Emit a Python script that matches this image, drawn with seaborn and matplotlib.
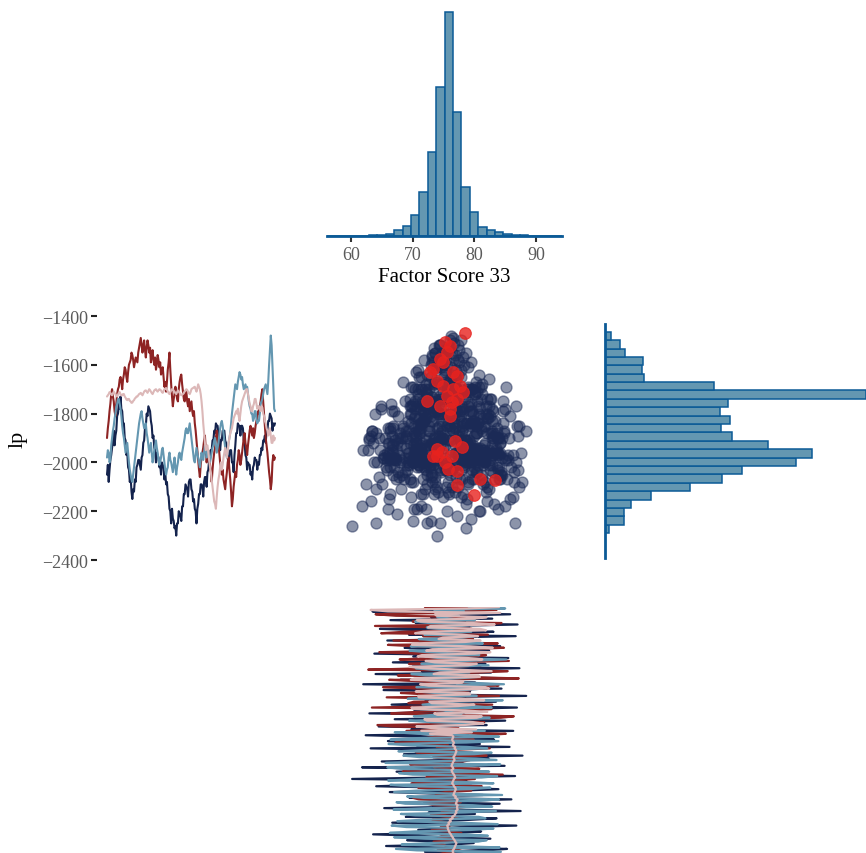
import numpy as np
import pandas as pd
import matplotlib
matplotlib.use("Agg")
import matplotlib.pyplot as plt
import seaborn as sns

# ---------------- data ----------------
chain_names = ["chain 1", "chain 2", "chain 3", "chain 4"]
chain_colors = ["#14234d", "#8e2424", "#6497b1", "#dcb8b8"]

lp_chain1 = [
    -2050, -2010, -2080, -2030, -1990, -1970, -1940, -1920, -1870, -1930, -1890, -1870, -1810, -1800, -1760, -1780, -1730, -1780, -1790, -1840,
    -1840, -1900, -1910, -1970, -1960, -2020, -2030, -2080, -2060, -2120, -2150, -2110, -2120, -2070, -2080, -2020, -2010, -1990, -1990, -2010,
    -2030, -1980, -1970, -1920, -1910, -1860, -1850, -1800, -1810, -1770, -1780, -1790, -1830, -1850, -1900, -1890, -1940, -1950, -2000, -1960,
    -1970, -1980, -2020, -2010, -2050, -2000, -2010, -2020, -2070, -2040, -2090, -2080, -2130, -2140, -2190, -2200, -2250, -2190, -2230, -2240,
    -2270, -2260, -2300, -2250, -2250, -2200, -2210, -2220, -2240, -2180, -2180, -2130, -2130, -2090, -2100, -2110, -2140, -2080, -2070, -2070,
    -2110, -2120, -2160, -2150, -2190, -2200, -2250, -2190, -2170, -2130, -2130, -2090, -2090, -2100, -2140, -2080, -2060, -2060, -2100, -2040,
    -2030, -1990, -1990, -1950, -1950, -1910, -1910, -1870, -1880, -1840, -1850, -1850, -1890, -1900, -1950, -1910, -1910, -1870, -1870, -1870,
    -1910, -1920, -1970, -1980, -2010, -1960, -1950, -1950, -2000, -2000, -2040, -1970, -1930, -1880, -1880, -1840, -1850, -1850, -1890, -1850,
    -1850, -1860, -1910, -1920, -1970, -1980, -2030, -2000, -2010, -2010, -2050, -2040, -2070, -2020, -2010, -1980, -1990, -1990, -2030, -2000,
    -2010, -1970, -1970, -1940, -1950, -1910, -1910, -1890, -1920, -1870, -1870, -1830, -1830, -1800, -1810, -1820, -1870, -1840, -1850, -1840]
lp_chain2 = [
    -1900, -1860, -1830, -1790, -1760, -1720, -1700, -1730, -1750, -1790, -1810, -1760, -1720, -1700, -1690, -1660, -1650, -1670, -1700, -1660,
    -1640, -1610, -1620, -1650, -1670, -1630, -1600, -1590, -1580, -1550, -1560, -1580, -1610, -1590, -1570, -1580, -1590, -1550, -1530, -1510,
    -1490, -1520, -1550, -1520, -1500, -1540, -1570, -1530, -1500, -1520, -1550, -1530, -1590, -1560, -1540, -1580, -1600, -1570, -1620, -1600,
    -1560, -1580, -1610, -1590, -1640, -1620, -1610, -1650, -1690, -1670, -1710, -1670, -1620, -1590, -1550, -1620, -1680, -1730, -1770, -1740,
    -1720, -1690, -1710, -1740, -1750, -1700, -1670, -1650, -1640, -1680, -1710, -1740, -1750, -1720, -1710, -1750, -1770, -1740, -1790, -1770,
    -1750, -1790, -1810, -1790, -1840, -1870, -1910, -1950, -1990, -2030, -2060, -2010, -1980, -1960, -1940, -1910, -1890, -1950, -2000, -1970,
    -1950, -1980, -2010, -2040, -2080, -2030, -1990, -1960, -1940, -1900, -1870, -1900, -1930, -1960, -2000, -2020, -2050, -2030, -2070, -2090,
    -2110, -2070, -2040, -2000, -1980, -2030, -2070, -2120, -2180, -2150, -2100, -2070, -2040, -2060, -2010, -1990, -1950, -1970, -2010, -1990,
    -1960, -1930, -1900, -1880, -1920, -1940, -1970, -1930, -1900, -1870, -1850, -1870, -1890, -1860, -1900, -1880, -1850, -1830, -1820, -1790,
    -1800, -1770, -1750, -1720, -1700, -1750, -1800, -1850, -1900, -1930, -1960, -2000, -2040, -2070, -2110, -2080, -2000, -1970, -1990, -1980]
lp_chain3 = [
    -1980, -1950, -1960, -2000, -1990, -1930, -1900, -1870, -1850, -1820, -1800, -1770, -1760, -1740, -1740, -1760, -1780, -1810, -1850, -1880,
    -1900, -1930, -1960, -1940, -1920, -1960, -2000, -2030, -2050, -2070, -2080, -2050, -2020, -1990, -1960, -1930, -1900, -1870, -1840, -1820,
    -1800, -1790, -1820, -1840, -1860, -1850, -1840, -1880, -1900, -1930, -1960, -1940, -1920, -1960, -2000, -1980, -1950, -1930, -1910, -1940,
    -1960, -1990, -2010, -2000, -1980, -1950, -1940, -1970, -2000, -2030, -2050, -2030, -2020, -1980, -1960, -1990, -2000, -2020, -2040, -2010,
    -1980, -2020, -2050, -2020, -2000, -1970, -1960, -1980, -1990, -1960, -1940, -1920, -1900, -1870, -1860, -1880, -1880, -1860, -1840, -1870,
    -1900, -1930, -1960, -1990, -2000, -1970, -1940, -1960, -1980, -2000, -2020, -1990, -1960, -1980, -1990, -1960, -1930, -1950, -1980, -1960,
    -1950, -1980, -2000, -1980, -1960, -1940, -1930, -1910, -1900, -1930, -1960, -1940, -1920, -1890, -1860, -1840, -1830, -1850, -1880, -1910,
    -1940, -1960, -1980, -1950, -1920, -1900, -1880, -1840, -1800, -1770, -1740, -1710, -1680, -1690, -1700, -1670, -1650, -1630, -1640, -1660,
    -1650, -1680, -1700, -1690, -1680, -1700, -1690, -1720, -1750, -1770, -1780, -1800, -1800, -1830, -1820, -1790, -1790, -1820, -1840, -1830,
    -1830, -1800, -1760, -1750, -1740, -1720, -1700, -1690, -1680, -1700, -1720, -1670, -1600, -1540, -1480, -1520, -1600, -1690, -1780, -1790]
lp_chain4 = [
    -1730, -1725, -1720, -1712, -1715, -1722, -1725, -1718, -1710, -1716, -1720, -1728, -1730, -1722, -1715, -1712, -1720, -1726, -1725, -1720,
    -1720, -1730, -1735, -1742, -1745, -1740, -1740, -1748, -1750, -1756, -1755, -1748, -1745, -1738, -1735, -1730, -1730, -1725, -1720, -1718,
    -1715, -1720, -1725, -1718, -1710, -1706, -1705, -1710, -1715, -1708, -1700, -1704, -1710, -1716, -1720, -1712, -1705, -1702, -1700, -1706,
    -1710, -1705, -1700, -1702, -1705, -1712, -1715, -1708, -1700, -1698, -1695, -1702, -1710, -1716, -1720, -1712, -1705, -1700, -1700, -1706,
    -1710, -1716, -1720, -1712, -1705, -1710, -1715, -1720, -1725, -1722, -1720, -1714, -1710, -1705, -1700, -1704, -1710, -1716, -1720, -1712,
    -1700, -1697, -1695, -1692, -1690, -1700, -1710, -1696, -1680, -1690, -1700, -1720, -1750, -1790, -1840, -1880, -1920, -1950, -1940, -1930,
    -1960, -1990, -2020, -2040, -2070, -2100, -2130, -2160, -2170, -2190, -2140, -2100, -2070, -2050, -2020, -2000, -2030, -2010, -1980, -1960,
    -1940, -1960, -1980, -1950, -1920, -1900, -1880, -1870, -1860, -1840, -1820, -1810, -1800, -1790, -1800, -1780, -1810, -1830, -1800, -1770,
    -1750, -1740, -1730, -1720, -1710, -1700, -1700, -1720, -1740, -1760, -1770, -1790, -1790, -1770, -1760, -1740, -1740, -1760, -1780, -1770,
    -1770, -1780, -1790, -1770, -1775, -1800, -1810, -1830, -1840, -1860, -1870, -1890, -1880, -1860, -1890, -1920, -1920, -1890, -1910, -1900]

fs_chain1 = [
    68.3, 74.9, 81.7, 76.2, 73.9, 86.2, 71.4, 66.1, 77.5, 79.8, 83.0, 72.7, 70.4, 75.6, 79.1, 64.8, 73.2, 78.0, 84.7, 71.2,
    76.6, 62.9, 74.4, 80.4, 77.3, 74.3, 87.1, 70.0, 67.8, 75.8, 78.8, 72.0, 81.9, 85.3, 73.7, 65.7, 76.3, 79.9, 73.5, 69.1,
    82.6, 75.2, 71.0, 63.6, 77.7, 81.1, 70.9, 74.1, 77.9, 86.8, 72.5, 66.7, 74.7, 79.4, 83.6, 68.9, 75.0, 80.1, 72.6, 87.5,
    76.0, 65.4, 78.3, 73.3, 84.1, 71.8, 76.9, 86.0, 69.5, 74.6, 81.4, 73.1, 66.3, 77.8, 83.9, 75.6, 64.1, 72.2, 79.5, 70.0,
    78.7, 60.2, 74.0, 86.6, 72.3, 80.7, 67.4, 77.2, 73.0, 61.8, 84.9, 71.7, 78.1, 65.0, 75.4, 82.3, 74.9, 87.8, 68.6, 79.7,
    73.6, 76.8, 63.2, 85.7, 70.7, 80.9, 74.5, 66.0, 83.2, 75.9, 71.3, 62.4, 79.0, 76.4, 86.3, 69.8, 77.1, 64.5, 82.0, 72.9,
    75.3, 85.0, 67.1, 80.5, 74.1, 78.4, 63.0, 81.3, 70.3, 76.7, 86.9, 75.5, 66.6, 73.4, 83.5, 72.1, 78.6, 69.2, 88.4, 74.8,
    70.6, 79.3, 65.3, 84.4, 72.8, 77.0, 62.0, 80.2, 75.1, 68.0, 86.4, 73.8, 78.9, 64.0, 82.7, 71.5, 76.1, 87.3, 69.9, 74.2,
    81.8, 66.8, 77.6, 73.6, 85.5, 70.1, 79.6, 63.8, 75.7, 82.4, 72.4, 68.7, 84.2, 76.5, 71.1, 80.0, 65.9, 78.2, 74.4, 86.7,
    69.4, 77.4, 83.1, 72.0, 64.7, 79.2, 75.8, 87.0, 70.5, 78.5, 66.4, 82.9, 73.0, 76.0, 85.8, 71.9, 63.5, 80.6, 74.7, 78.8]
fs_chain2 = [
    74.2, 76.1, 77.8, 73.5, 71.5, 75.9, 79.6, 74.3, 73.0, 77.2, 76.4, 72.8, 70.8, 75.5, 78.9, 76.0, 75.1, 73.9, 72.6, 77.0,
    77.3, 74.6, 73.8, 76.9, 80.2, 75.2, 75.6, 73.1, 71.9, 76.3, 76.8, 74.9, 74.0, 77.5, 78.2, 75.4, 75.0, 73.6, 73.4, 76.7,
    76.5, 74.2, 74.8, 77.4, 77.9, 75.3, 73.1, 76.0, 76.0, 74.5, 78.6, 75.8, 74.4, 73.2, 75.7, 77.3, 72.9, 75.1, 77.1, 74.7,
    74.6, 76.6, 79.0, 73.4, 72.4, 77.8, 76.2, 71.0, 70.1, 75.9, 78.4, 73.7, 75.3, 79.5, 73.6, 70.9, 81.2, 76.4, 69.8, 74.3,
    76.9, 80.1, 72.2, 75.5, 84.6, 71.3, 68.4, 77.9, 80.8, 73.5, 74.9, 69.6, 71.6, 78.3, 79.3, 75.0, 73.3, 82.0, 77.6, 70.7,
    70.4, 76.8, 82.5, 73.9, 75.8, 68.9, 67.2, 78.1, 79.9, 72.1, 73.7, 81.4, 85.1, 74.0, 69.0, 76.2, 77.4, 66.7, 64.3, 79.7,
    81.6, 71.8, 72.8, 84.3, 86.4, 75.6, 66.5, 70.5, 78.7, 82.8, 63.4, 74.8, 82.9, 69.3, 70.2, 80.0, 76.1, 65.8, 84.0, 72.3,
    68.1, 77.7, 79.4, 71.2, 65.2, 83.9, 83.3, 74.1, 71.4, 66.2, 87.2, 78.0, 67.6, 73.0, 80.6, 85.4, 62.8, 72.5, 77.0, 81.1,
    69.4, 75.2, 85.6, 67.9, 73.2, 80.5, 81.9, 70.3, 64.6, 76.6, 78.0, 84.8, 70.6, 66.0, 83.8, 74.5, 66.9, 79.8, 76.7, 71.7,
    82.2, 64.9, 68.7, 77.1, 79.6, 73.9, 63.9, 81.5, 84.4, 70.0, 71.0, 78.8, 80.3, 67.3, 64.0, 75.7, 75.4, 83.6, 81.0, 72.0]
fs_chain3 = [
    67.2, 74.0, 81.5, 78.3, 70.1, 66.9, 83.0, 76.5, 68.4, 72.1, 79.8, 82.4, 66.5, 70.8, 82.7, 77.2, 71.3, 67.6, 80.2, 83.6,
    67.9, 73.1, 83.4, 79.0, 69.6, 66.2, 81.0, 75.4, 66.8, 71.7, 78.9, 84.3, 70.7, 67.3, 84.1, 76.8, 68.2, 72.6, 80.6, 82.0,
    72.0, 67.0, 82.2, 78.6, 66.3, 70.3, 79.4, 83.1, 69.0, 66.6, 83.8, 77.7, 67.5, 71.5, 81.8, 80.7, 70.4, 68.1, 78.5, 83.5,
    66.9, 72.9, 82.9, 79.7, 68.8, 67.4, 80.9, 84.0, 71.8, 69.1, 84.5, 76.4, 67.0, 70.6, 79.1, 82.6, 69.3, 66.4, 83.1, 78.1,
    66.0, 71.2, 81.2, 83.7, 70.0, 67.8, 82.4, 77.9, 68.1, 65.9, 79.6, 84.2, 65.6, 71.0, 83.6, 80.3, 71.1, 68.5, 80.0, 82.8,
    67.7, 72.4, 82.1, 78.8, 69.9, 66.1, 78.7, 83.9, 66.4, 70.2, 84.0, 79.2, 70.9, 67.1, 81.7, 76.9, 74.5, 71.4, 77.6, 80.9,
    72.8, 69.4, 79.3, 82.5, 70.2, 73.6, 78.0, 76.1, 75.0, 71.2, 82.8, 79.9, 71.6, 74.3, 76.8, 84.6, 69.2, 72.7, 80.4, 77.8,
    73.7, 70.8, 78.4, 81.3, 70.6, 74.9, 84.8, 79.5, 74.8, 71.9, 77.3, 80.5, 72.1, 69.8, 79.2, 76.0, 73.0, 70.5, 76.3, 82.3,
    71.4, 74.7, 78.8, 85.2, 74.2, 72.0, 80.8, 77.4, 72.5, 69.5, 77.0, 81.9, 69.7, 73.3, 81.4, 78.2, 73.9, 71.0, 78.1, 80.0,
    71.9, 75.1, 79.5, 76.6, 74.6, 72.3, 77.9, 81.0, 72.7, 70.4, 80.1, 75.3, 74.0, 77.5, 76.2, 74.4, 78.3, 73.5, 85.0, 79.1]
fs_chain4 = [
    76.4, 76.5, 76.6, 76.3, 76.2, 76.5, 76.8, 76.6, 76.5, 76.4, 76.3, 76.5, 76.7, 76.6, 76.4, 76.2, 76.1, 76.0, 76.0, 75.9,
    75.8, 75.9, 76.0, 76.1, 75.9, 76.0, 76.2, 76.3, 76.4, 76.5, 76.6, 76.5, 76.5, 76.7, 76.8, 76.9, 77.0, 77.1, 76.9, 76.8,
    76.6, 76.5, 76.3, 76.2, 76.0, 75.9, 75.8, 75.7, 75.7, 75.6, 75.9, 75.8, 76.2, 76.0, 76.5, 76.4, 76.8, 76.9, 77.1, 77.0,
    77.3, 77.2, 77.2, 77.3, 77.0, 77.1, 77.2, 77.3, 76.9, 77.0, 76.6, 76.7, 76.8, 76.9, 77.0, 76.9, 76.7, 76.6, 76.4, 76.5,
    76.6, 76.7, 76.9, 76.8, 76.7, 76.5, 76.4, 76.3, 76.6, 76.5, 76.3, 76.4, 76.5, 76.6, 76.8, 76.7, 76.6, 76.8, 76.9, 77.0,
    77.1, 77.0, 76.8, 76.9, 76.5, 76.6, 76.7, 76.5, 76.4, 76.5, 76.6, 76.4, 72.8, 79.6, 71.4, 80.3, 73.0, 70.6, 78.2, 81.5,
    79.8, 72.3, 71.9, 80.4, 81.2, 74.0, 73.5, 82.1, 78.6, 70.2, 69.8, 77.4, 80.0, 73.1, 72.7, 81.6, 77.9, 71.0, 70.9, 79.3,
    79.1, 70.5, 73.8, 82.4, 81.8, 72.6, 71.2, 78.0, 78.2, 69.7, 70.3, 80.9, 80.7, 73.4, 74.4, 82.8, 77.5, 71.8, 69.5, 79.0,
    80.4, 73.6, 72.1, 81.3, 78.9, 70.8, 71.5, 80.1, 82.6, 72.2, 73.2, 83.0, 79.4, 69.9, 70.0, 78.5, 81.0, 74.2, 74.9, 80.6,
    78.0, 70.4, 71.7, 81.9, 80.9, 72.5, 72.9, 83.3, 79.7, 71.3, 70.7, 79.9, 82.0, 73.9, 73.6, 84.2, 66.0, 63.2, 78.8, 84.0]

# divergent transitions
div_fs = [78.5, 75.3, 75.6, 74.9, 73.3, 76.6, 73.9, 77.2, 76.6, 75.6, 72.3, 77.2,
          76.1, 74.4, 77.7, 76.1, 76.9, 73.9, 73.9, 76.4, 75.3, 78.0, 75.8, 77.2,
          80.9, 83.4, 77.2, 80.0, 72.8, 74.4, 76.1, 74.9, 78.2, 76.4, 73.3, 74.8]
div_lp = [-1470, -1507, -1548, -1590, -1617, -1630, -1666, -1645, -1699, -1728, -1748, -1740,
          -1781, -1769, -1687, -1810, -1912, -1945, -1974, -1974, -1998, -1937, -2027, -2035,
          -2068, -2072, -2093, -2133, -1630, -1576, -1523, -1687, -1711, -1752, -1974, -1957]

# marginal histograms (bin counts)
fs_bin_start, fs_bin_width = 56.13, 1.36
fs_counts = [0, 1, 0, 1, 1, 2, 4, 7, 17, 30, 62, 132, 253, 448, 672,
             372, 147, 73, 28, 17, 11, 5, 4, 2, 1, 1, 0, 1]
lp_bin_start, lp_bin_width = -2290.0, 34.4
lp_counts = [12, 57, 57, 79, 139, 255, 351, 411, 573, 621, 489, 383, 350, 377,
             345, 370, 784, 329, 119, 113, 115, 61, 47, 18]

x_label = "Factor Score 33"
y_label = "lp"
x_ticks = [60, 70, 80, 90]
y_ticks = [-1400, -1600, -1800, -2000, -2200, -2400]

# ---------------- build tables ----------------
lp_all = [lp_chain1, lp_chain2, lp_chain3, lp_chain4]
fs_all = [fs_chain1, fs_chain2, fs_chain3, fs_chain4]
rows = []
for name, lps, fss in zip(chain_names, lp_all, fs_all):
    for i, (a, b) in enumerate(zip(lps, fss)):
        rows.append({"chain": name, "iteration": i, "lp": a, "fs": b})
df = pd.DataFrame(rows)
n_iter = int(df["iteration"].max())
div_df = pd.DataFrame({"fs": div_fs, "lp": div_lp})

fs_edges = [fs_bin_start + fs_bin_width * k for k in range(len(fs_counts) + 1)]
fs_hist = pd.DataFrame({"value": [(fs_edges[k] + fs_edges[k + 1]) / 2 for k in range(len(fs_counts))],
                        "count": fs_counts})
lp_edges = [lp_bin_start + lp_bin_width * k for k in range(len(lp_counts) + 1)]
lp_hist = pd.DataFrame({"value": [(lp_edges[k] + lp_edges[k + 1]) / 2 for k in range(len(lp_counts))],
                        "count": lp_counts})

# ---------------- style ----------------
sns.set_theme(style="white")
plt.rcParams['font.family'] = ['Liberation Serif', 'DejaVu Serif']
plt.rcParams['axes.unicode_minus'] = True

W, H = 866, 854
fig = plt.figure(figsize=(W / 100, H / 100), dpi=100)

def axpx(x0, y0, x1, y1):
    return fig.add_axes([x0 / W, (H - y1) / H, (x1 - x0) / W, (y1 - y0) / H])

hist_fill = "#6497b1"
hist_edge = "#0b5a96"
tick_col = "#5a5a5a"
xlim = (56.13, 94.2)
ylim = (-2400, -1400)

# top histogram
ax_top = axpx(327, 12, 562, 237)
sns.histplot(data=fs_hist, x="value", weights="count", bins=fs_edges, ax=ax_top,
             color=hist_fill, edgecolor=hist_edge, linewidth=1.1, alpha=1)
ax_top.set_xlim(xlim)
ax_top.set_ylim(0, 675)
for s in ["top", "left", "right"]:
    ax_top.spines[s].set_visible(False)
ax_top.spines["bottom"].set_color(hist_edge)
ax_top.spines["bottom"].set_linewidth(2)
ax_top.set_yticks([])
ax_top.set_ylabel("")
ax_top.set_xticks(x_ticks)
ax_top.tick_params(axis="x", bottom=True, length=4, width=1.5, color="#333333",
                   labelsize=13, labelcolor=tick_col, pad=3)
ax_top.set_xlabel(x_label, fontsize=15, color="black", labelpad=3)

# left trace of lp
ax_lt = axpx(97, 317, 285, 561)
for name, col in zip(chain_names, chain_colors):
    sub = df[df.chain == name]
    sns.lineplot(data=sub, x="iteration", y="lp", ax=ax_lt, color=col,
                 linewidth=1.5, estimator=None, sort=False)
pad_it = 10 / 168 * n_iter
ax_lt.set_xlim(-pad_it, n_iter + pad_it)
ax_lt.set_ylim(ylim)
for s in ax_lt.spines.values():
    s.set_visible(False)
ax_lt.set_xticks([])
ax_lt.set_xlabel("")
ax_lt.set_yticks(y_ticks)
ax_lt.tick_params(axis="y", left=True, length=4.5, width=1.5, color="#222222",
                  labelsize=13, labelcolor=tick_col, pad=2)
ax_lt.set_ylabel(y_label, fontsize=16, color="black", labelpad=10)

# scatter
ax_sc = axpx(327, 317, 562, 561)
sns.scatterplot(data=df, x="fs", y="lp", ax=ax_sc, color="#1b2a56", alpha=0.5,
                s=62, edgecolor="#1b2a56", linewidth=1.0)
sns.scatterplot(data=div_df, x="fs", y="lp", ax=ax_sc, color="#e8221e", alpha=0.8,
                s=70, edgecolor="#e8221e", linewidth=0.8)
ax_sc.set_xlim(xlim)
ax_sc.set_ylim(ylim)
ax_sc.set_axis_off()

# right histogram of lp
ax_rh = axpx(604.5, 317, 866, 561)
sns.histplot(data=lp_hist, y="value", weights="count", bins=lp_edges, ax=ax_rh,
             color=hist_fill, edgecolor=hist_edge, linewidth=1.1, alpha=1)
ax_rh.set_ylim(ylim)
ax_rh.set_xlim(0, 784)
for s in ["top", "bottom", "right"]:
    ax_rh.spines[s].set_visible(False)
ax_rh.spines["left"].set_color(hist_edge)
ax_rh.spines["left"].set_linewidth(2)
ax_rh.spines["left"].set_bounds(-2393, -1431)
ax_rh.set_xticks([])
ax_rh.set_yticks([])
ax_rh.set_xlabel("")
ax_rh.set_ylabel("")

# bottom trace of factor score (iteration runs upward)
ax_bt = axpx(327, 608, 562, 898)
for name, col in zip(chain_names, chain_colors):
    sub = df[df.chain == name]
    sns.lineplot(data=sub, x="fs", y="iteration", ax=ax_bt, color=col,
                 linewidth=1.6, estimator=None, sort=False, orient="y")
ax_bt.set_xlim(xlim)
ax_bt.set_ylim(0, n_iter)
ax_bt.set_axis_off()

fig.savefig("out.png", dpi=100)
